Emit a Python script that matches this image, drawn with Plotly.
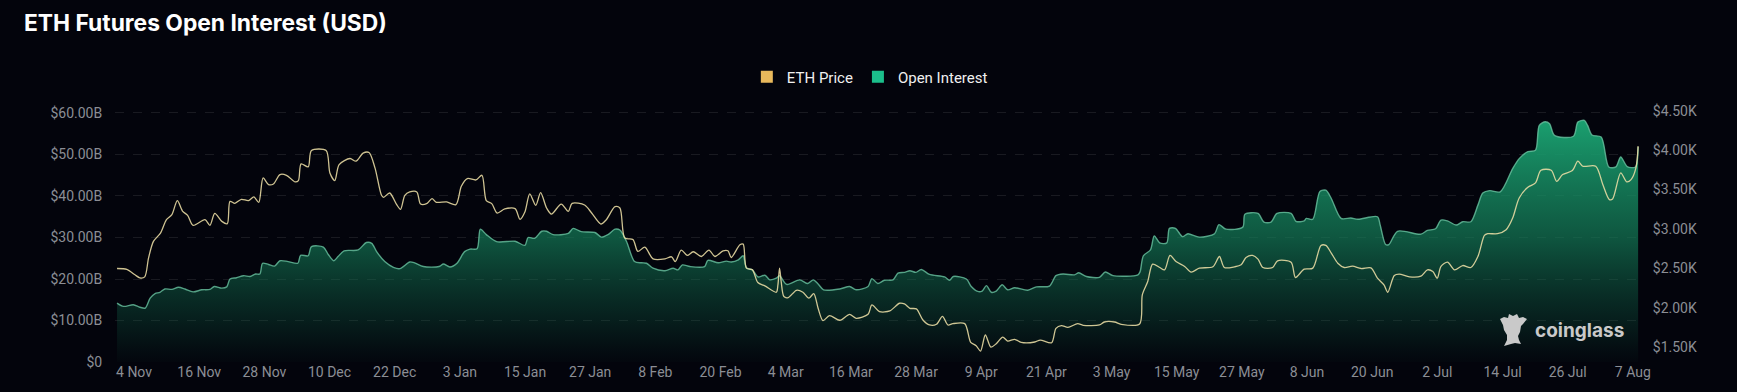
import pandas as pd
import plotly.graph_objects as go

START = pd.Timestamp("2024-11-04")

tick_dates = ["2024-11-04","2024-11-16","2024-11-28","2024-12-10","2024-12-22","2025-01-03","2025-01-15","2025-01-27",
              "2025-02-08","2025-02-20","2025-03-04","2025-03-16","2025-03-28","2025-04-09","2025-04-21","2025-05-03",
              "2025-05-15","2025-05-27","2025-06-08","2025-06-20","2025-07-02","2025-07-14","2025-07-26","2025-08-07"]
tick_labels = ["4 Nov","16 Nov","28 Nov","10 Dec","22 Dec","3 Jan","15 Jan","27 Jan","8 Feb","20 Feb","4 Mar","16 Mar",
               "28 Mar","9 Apr","21 Apr","3 May","15 May","27 May","8 Jun","20 Jun","2 Jul","14 Jul","26 Jul","7 Aug"]

# days since 4 Nov, ETH price in USD
price_days = [0,1.8,3.3,4.2,5.1,5.8,6.7,8.0,9.1,10.1,11.1,12.1,13.0,14.0,16.2,17.1,18.0,19.3,20.3,20.8,21.7,22.9,24.2,25.2,26.1,26.9,27.9,28.8,30.0,31.2,32.8,33.4,33.9,35.2,35.8,38.5,39.2,40.1,40.9,42.9,44.0,45.3,46.4,47.5,48.7,49.1,50.2,51.5,52.2,53.0,53.9,55.2,55.9,57.1,58.0,58.8,60.7,62.4,63.4,64.5,66.1,67.2,68.0,69.0,70.0,71.4,73.3,74.2,75.1,76.0,77.1,78.0,79.1,80.0,81.8,83.1,83.8,86.1,87.4,89.1,90.1,91.7,92.6,93.5,95.0,95.9,97.2,98.7,100.9,102.1,102.8,103.9,105.0,106.1,107.6,109.0,110.1,111.6,112.5,113.1,114.7,115.3,115.9,117.0,118.0,119.3,121.4,121.7,122.0,122.3,122.8,123.6,125.1,126.3,127.4,128.3,129.1,130.0,131.2,133.1,134.9,136.1,138.3,139.0,140.4,142.3,144.1,145.0,146.0,147.2,148.4,149.6,150.9,152.0,153.0,153.9,156.1,157.2,158.2,159.0,159.9,160.9,161.9,163.1,164.0,165.3,166.5,169.0,170.0,172.1,172.9,173.9,175.1,176.9,177.9,180.9,181.8,183.7,184.9,188.3,188.8,189.8,190.7,192.0,192.9,193.9,195.0,196.6,197.8,199.3,201.8,203.0,203.9,205.8,207.0,207.9,209.1,210.1,211.0,212.8,213.7,216.2,217.0,218.6,220.2,221.7,222.6,223.6,224.8,226.0,227.5,229.1,230.9,232.1,233.3,234.0,235.2,236.1,238.0,240.1,241.3,242.3,243.1,243.8,245.0,246.3,247.8,249.3,250.6,251.8,252.4,254.2,255.8,257.0,258.2,259.8,261.2,262.2,264.1,265.1,266.2,268.0,269.0,269.9,272.3,273.6,274.8,275.4,276.9,278.0,278.8,279.7,280.1]
price_values = [2497,2485,2417,2378,2391,2629,2841,2947,3117,3181,3359,3223,3172,3045,3117,3045,3198,3096,3066,3350,3325,3376,3359,3406,3338,3647,3563,3571,3690,3681,3597,3614,3826,3788,3995,3995,3711,3614,3817,3894,3860,3962,3970,3775,3427,3401,3456,3308,3249,3427,3469,3469,3316,3325,3384,3338,3342,3308,3541,3639,3622,3681,3359,3321,3202,3253,3257,3121,3215,3444,3299,3461,3266,3189,3316,3223,3325,3304,3202,3062,3117,3283,3266,2884,2867,2714,2769,2620,2620,2646,2586,2731,2663,2710,2650,2731,2650,2722,2722,2637,2799,2807,2502,2480,2319,2277,2196,2289,2502,2332,2141,2128,2221,2196,2120,2179,1992,1835,1899,1840,1916,1865,1916,2035,1950,1958,2056,2047,1992,1984,1844,1780,1789,1890,1780,1797,1797,1559,1517,1449,1653,1500,1542,1627,1576,1598,1559,1564,1589,1555,1738,1772,1750,1797,1776,1780,1818,1818,1789,1793,2162,2332,2553,2510,2480,2663,2586,2523,2451,2502,2519,2650,2510,2519,2544,2637,2663,2616,2510,2510,2595,2578,2383,2489,2502,2790,2790,2693,2565,2510,2527,2497,2506,2374,2289,2196,2408,2425,2391,2400,2480,2459,2374,2523,2578,2480,2535,2510,2650,2917,2939,2939,2990,3138,3393,3529,3584,3745,3745,3605,3690,3741,3860,3796,3796,3563,3372,3380,3711,3597,3626,3775,4051]

# days since 4 Nov, open interest in billions of USD
oi_days = [0,1.2,3.0,4.2,5.2,6.1,7.0,7.9,8.8,10.1,11.3,12.5,14.0,15.6,17.1,17.9,19.3,20.2,20.8,22.0,23.3,24.5,25.5,26.3,26.8,27.9,29.0,30.0,31.5,33.3,33.8,35.2,35.8,38.0,38.9,39.9,40.7,41.8,44.4,45.9,46.9,47.8,49.3,50.9,52.1,53.9,54.8,56.4,59.3,60.1,61.3,62.6,64.0,65.0,66.3,66.9,68.0,69.9,73.3,75.1,75.7,76.9,78.2,79.1,80.3,83.1,84.0,85.5,88.0,89.2,90.4,91.7,92.6,93.8,95.3,96.6,97.5,98.7,100.9,102.4,103.3,104.1,105.5,108.2,108.8,110.7,112.2,113.1,114.4,115.3,115.9,117.0,118.0,119.3,120.2,121.4,122.0,123.3,125.7,127.2,128.2,129.1,130.1,133.1,134.9,136.1,138.3,139.0,140.1,141.3,142.9,143.8,145.0,146.0,147.1,148.1,149.6,152.4,153.3,154.0,156.4,157.3,158.5,159.3,160.1,161.0,161.9,163.0,164.0,165.3,167.7,169.3,171.7,172.9,174.2,176.3,177.1,178.5,180.9,182.0,183.4,188.0,188.4,189.0,190.3,191.0,192.0,193.3,193.8,194.9,196.2,197.2,199.3,202.1,202.9,204.2,207.3,207.7,210.1,211.2,212.5,213.6,216.2,217.1,218.6,219.0,220.2,221.5,222.6,223.6,225.4,227.2,228.5,232.1,232.6,233.6,234.2,235.8,240.1,241.3,242.8,243.8,245.0,246.6,247.8,249.3,250.6,251.5,252.8,254.7,257.0,258.2,259.8,261.2,261.9,263.0,263.8,264.7,268.2,269.0,270.2,270.8,271.6,273.3,274.7,276.0,276.9,278.1,279.6,280.1]
oi_values = [14.2,13.4,13.8,13.2,13.0,15.4,16.5,16.8,17.6,17.5,18.0,17.6,16.9,17.4,17.5,18.2,17.8,18.1,20.0,20.3,20.8,20.6,21.2,21.2,23.8,23.5,23.1,24.4,24.2,23.8,25.7,25.6,27.8,27.7,25.9,24.4,25.4,26.8,27.0,28.8,28.6,26.6,24.2,22.8,22.5,24.1,23.9,23.0,23.0,23.6,22.9,23.8,26.6,27.2,27.3,32.0,30.7,29.0,29.1,28.1,30.0,29.8,31.5,31.5,30.7,31.0,32.2,31.4,31.2,30.1,30.7,32.0,31.8,29.1,24.2,23.9,23.8,22.6,22.0,22.6,22.2,23.4,23.0,23.0,24.5,23.9,24.3,24.1,24.6,25.6,22.7,22.2,20.5,20.9,19.8,20.2,20.8,18.7,19.8,18.9,19.8,18.8,17.4,17.6,18.2,17.4,18.2,20.1,18.9,19.7,19.8,21.4,21.6,22.0,21.6,22.3,21.1,20.5,19.7,20.6,20.0,18.2,17.0,17.1,18.4,16.8,17.1,18.6,17.4,17.9,17.3,18.1,18.3,20.8,21.2,21.0,21.5,20.6,20.4,21.7,20.8,21.0,21.8,25.6,27.0,30.4,28.7,28.7,32.2,32.2,30.2,30.9,30.1,30.9,33.1,32.0,32.5,35.6,35.8,33.7,33.7,35.8,35.8,33.9,34.0,34.6,34.4,41.1,41.4,39.4,34.6,34.7,34.4,35.0,33.0,28.3,28.3,31.5,30.8,31.7,32.1,34.2,34.0,33.0,33.8,33.8,37.8,40.7,41.3,41.0,46.6,49.0,50.7,51.0,57.0,57.9,57.4,54.6,54.4,57.8,58.2,57.0,54.7,54.2,47.0,47.0,49.4,47.1,47.0,51.8]

left_ticks = [0, 10, 20, 30, 40, 50, 60]
left_labels = ["$0", "$10.00B", "$20.00B", "$30.00B", "$40.00B", "$50.00B", "$60.00B"]
right_ticks = [1500, 2000, 2500, 3000, 3500, 4000, 4500]
right_labels = ["$1.50K", "$2.00K", "$2.50K", "$3.00K", "$3.50K", "$4.00K", "$4.50K"]

BG = "#03040c"
TICK = "#8b8e95"
FONT = "Roboto, Arial, sans-serif"

def to_dates(days):
    return [START + pd.Timedelta(hours=d * 24) for d in days]

fig = go.Figure()
fig.add_trace(go.Scatter(
    x=to_dates(oi_days), y=oi_values, mode="lines", name="Open Interest", showlegend=False,
    line=dict(color="rgba(105,195,160,0.8)", width=1.4, shape="spline", smoothing=0.8),
    fill="tozeroy",
    fillgradient=dict(type="vertical", start=0, stop=60,
                      colorscale=[[0, "rgba(16,90,65,0.03)"], [0.17, "rgba(16,100,72,0.28)"], [0.5, "rgba(20,125,88,0.68)"], [1, "rgba(27,165,115,1)"]]),
    hoverinfo="skip",
))
fig.add_trace(go.Scatter(
    x=to_dates(price_days), y=price_values, mode="lines", name="ETH Price", yaxis="y2", showlegend=False,
    line=dict(color="rgba(236,222,165,0.88)", width=1.3, shape="spline", smoothing=0.8),
    hoverinfo="skip",
))
fig.add_trace(go.Scatter(x=[None], y=[None], mode="markers", name="ETH Price",
                         marker=dict(symbol="square", size=12, color="#e9b95c")))
fig.add_trace(go.Scatter(x=[None], y=[None], mode="markers", name="Open Interest",
                         marker=dict(symbol="square", size=12, color="#1bbf8b")))

logo = ("M -13,11 L -9,13 L -5,12 L -4,16 L 0,14 L 4,16 L 6,12 L 10,13 L 14,11 L 10,6 L 8,4 L 7,-2 "
        "L 5,-6 L 6,-10 L 8,-14 L 2,-13 L -2,-14 L -9,-16 L -6,-10 L -6,-5 L -9,0 L -10,5 Z")

fig.update_layout(
    width=1737, height=392, autosize=False,
    paper_bgcolor=BG, plot_bgcolor=BG,
    margin=dict(l=115, r=94, t=100, b=30, pad=0),
    font=dict(family=FONT, size=14, color=TICK),
    title=dict(text="<b>ETH Futures Open Interest (USD)</b>", x=24/1737, xanchor="left", y=1-23/392, yanchor="middle",
               font=dict(family="Inter, Arial, sans-serif", size=22.8, color="#ffffff")),
    legend=dict(orientation="h", x=0.494, xanchor="center", xref="paper", y=(392-30-77)/262, yanchor="middle",
                font=dict(size=15, color="#f0f0f0", family=FONT), bgcolor="rgba(0,0,0,0)", itemclick=False, itemdoubleclick=False),
    xaxis=dict(type="date", range=[START - pd.Timedelta(hours=9), START + pd.Timedelta(hours=24*281)],
               tickmode="array", tickvals=tick_dates, ticktext=tick_labels, ticklabelshift=17,
               showgrid=False, zeroline=False, showline=False, ticks="", tickfont=dict(size=14, color=TICK, family=FONT)),
    yaxis=dict(range=[0, 63.13], tickmode="array", tickvals=left_ticks, ticktext=left_labels,
               showgrid=True, griddash="dash", gridcolor="rgba(255,255,255,0.09)", gridwidth=1, zeroline=False,
               showline=False, ticks="outside", ticklen=9, tickcolor="rgba(0,0,0,0)", tickfont=dict(size=14, color=TICK, family=FONT)),
    yaxis2=dict(overlaying="y", side="right", range=[1310, 4637], tickmode="array", tickvals=right_ticks, ticktext=right_labels,
                showgrid=False, zeroline=False, showline=False, ticks="outside", ticklen=6, tickcolor="rgba(0,0,0,0)",
                tickfont=dict(size=14, color=TICK, family=FONT)),
    shapes=[dict(type="path", path=logo, xref="paper", yref="paper", xsizemode="pixel", ysizemode="pixel",
                 xanchor=(1513-115)/1528, yanchor=(362-330)/262, fillcolor="#c9c9c9", line=dict(width=0))],
    annotations=[dict(text="<b>coinglass</b>", xref="paper", yref="paper", x=(1579-115)/1528, y=(362-330)/262,
                      xanchor="center", yanchor="middle", showarrow=False,
                      font=dict(family="Inter, Arial, sans-serif", size=19, color="#c9c9c9"))],
)

fig.write_html("out.html", config={"displayModeBar": False},
               post_script="document.body.style.margin='0';document.body.style.background='#03040c';document.documentElement.style.overflow='hidden';")
